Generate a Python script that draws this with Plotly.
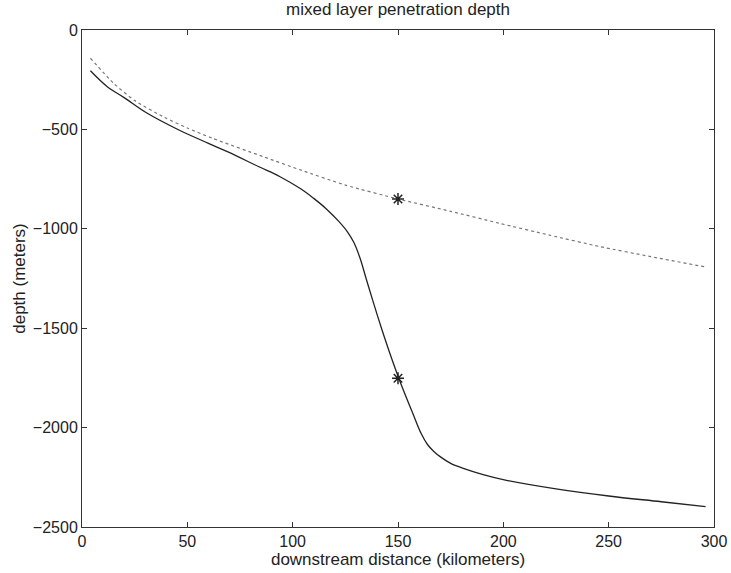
import plotly.graph_objects as go

# Solid curve (penetration depth, case 1)
solid_x = [4, 12, 20, 31, 46, 60, 69, 84, 94, 104, 110, 116, 122, 126, 129, 132, 135, 138, 142, 146, 151, 157, 161, 164, 167, 170, 175, 181, 190, 201, 225, 250, 275, 296]
solid_y = [-205, -285, -340, -419, -503, -570, -612, -688, -738, -800, -847, -900, -964, -1015, -1068, -1148, -1255, -1360, -1495, -1622, -1769, -1928, -2030, -2085, -2120, -2146, -2180, -2205, -2235, -2264, -2308, -2344, -2373, -2398]

# Dotted curve (case 2)
dot_x = [4, 15, 25, 39, 50, 62, 86, 104, 125, 150, 175, 198, 222, 246, 270, 296]
dot_y = [-142, -268, -355, -439, -493, -545, -637, -705, -780, -850, -912, -972, -1032, -1090, -1140, -1192]

# Star markers
star_x = [150, 150]
star_y = [-850, -1752]

x_ticks = [0, 50, 100, 150, 200, 250, 300]
y_ticks = [0, -500, -1000, -1500, -2000, -2500]

fig = go.Figure()
fig.add_trace(go.Scatter(x=solid_x, y=solid_y, mode="lines",
                         line=dict(color="#222222", width=1.3, shape="spline", smoothing=1.0),
                         showlegend=False))
fig.add_trace(go.Scatter(x=dot_x, y=dot_y, mode="lines",
                         line=dict(color="#777777", width=1.2, dash="dot", shape="spline", smoothing=0.6),
                         showlegend=False))
fig.add_trace(go.Scatter(x=star_x, y=star_y, mode="markers",
                         marker=dict(symbol="asterisk-open", size=10, color="#222222",
                                     line=dict(color="#222222", width=1.5)),
                         showlegend=False))

font = dict(family="Liberation Sans, Arial, Helvetica, sans-serif", size=16, color="#222222")
tfont = dict(family="Liberation Sans, Arial, Helvetica, sans-serif", size=17, color="#222222")

fig.update_layout(
    width=731, height=573,
    margin=dict(l=82, r=17, t=30, b=46, autoexpand=False),
    paper_bgcolor="white", plot_bgcolor="white",
    font=font,
    title=dict(text="mixed layer penetration depth", x=0.5, xref="paper",
               y=0.995, yref="container", yanchor="top", font=tfont),
    xaxis=dict(range=[0, 300], tickvals=x_ticks, ticks="inside", ticklen=5,
               tickcolor="#333333", showline=True, linecolor="#333333", linewidth=1,
               mirror="allticks", showgrid=False, zeroline=False, automargin=False,
               title=dict(text="downstream distance (kilometers)", standoff=0, font=tfont)),
    yaxis=dict(range=[-2500, 0], tickvals=y_ticks, ticks="inside", ticklen=5,
               tickcolor="#333333", showline=True, linecolor="#333333", linewidth=1,
               mirror="allticks", showgrid=False, zeroline=False, automargin=False,
               title=dict(text="depth (meters)", standoff=2, font=tfont)),
)

fig.write_html("out.html")
